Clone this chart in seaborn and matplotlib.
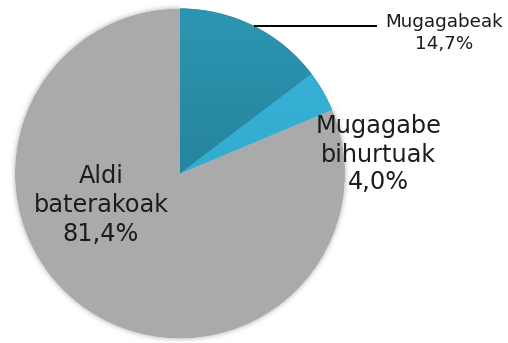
import numpy as np
import matplotlib
matplotlib.use("Agg")
import matplotlib.pyplot as plt
from matplotlib.colors import to_rgb
import seaborn as sns

# Data
categories = ["Mugagabeak", "Mugagabe bihurtuak", "Aldi baterakoak"]
shares = [14.7, 4.0, 81.4]
label_lines = [["Mugagabeak"], ["Mugagabe", "bihurtuak"], ["Aldi", "baterakoak"]]

# Styling
grad_top = ["#2c96b2", "#37b2d6", None]
grad_bottom = ["#21728a", "#2fa6ca", None]
grey = "#aaaaaa"
text_color = "#1c1c1c"

sns.set_theme(style="white")
plt.rcParams["font.family"] = ["DejaVu Sans"]

W, H = 508, 343
fig = plt.figure(figsize=(W / 100, H / 100), dpi=100)
ax = fig.add_axes([0, 0, 1, 1])


def Y(y):
    return H - y


cx, cy, r = 180.0, Y(173.5), 165.0

wedges, _ = ax.pie(
    shares, startangle=90, counterclock=False, center=(cx, cy), radius=r,
    frame=True, wedgeprops=dict(linewidth=0),
)


def soft_edge(image, dpi, sigma=2.6):
    pad = int(3 * sigma) + 2
    alpha = np.pad(image[..., 3], pad)
    k = np.arange(-pad, pad + 1)
    kern = np.exp(-0.5 * (k / sigma) ** 2)
    kern /= kern.sum()
    out = np.zeros_like(alpha)
    for off, w in zip(k, kern):
        out += w * np.roll(alpha, off, axis=0)
    out2 = np.zeros_like(out)
    for off, w in zip(k, kern):
        out2 += w * np.roll(out, off, axis=1)
    res = np.zeros(alpha.shape + (4,))
    res[..., :3] = to_rgb(grey)
    res[..., 3] = np.maximum(alpha, out2)
    return res, -pad, -pad


# Grey slice with a soft outer rim
wedges[2].set_facecolor(grey)
wedges[2].set_zorder(1)
wedges[2].set_agg_filter(soft_edge)

# Blue slices filled with vertical gradients
ny = 256
t = np.linspace(0, 1, ny)[:, None, None]
for i in range(2):
    top = np.array(to_rgb(grad_top[i]))
    bot = np.array(to_rgb(grad_bottom[i]))
    img = (1 - t) * top + t * bot
    wedges[i].set_facecolor(grad_bottom[i])
    wedges[i].set_zorder(2)
    im = ax.imshow(img, extent=(cx - r, cx + r, cy - r, cy + r), origin="upper",
                   aspect="auto", zorder=3, interpolation="bilinear")
    im.set_clip_path(wedges[i])


def pct(v):
    return f"{v:.1f}%".replace(".", ",")


# Leader line for the first slice, starting on its arc
lead_y = Y(26)
x0 = cx + np.sqrt(r ** 2 - (lead_y - cy) ** 2)
ax.plot([x0, 377], [lead_y, lead_y], color="black", lw=1.4, zorder=4,
        solid_capstyle="butt")

# Labels: (center x, baselines, font size)
label_layout = [
    (444, [27, 49], 13.2),
    (378.5, [133, 162, 189], 17.3),
    (101, [183, 212.5, 241.5], 17.3),
]
for lines, v, (lx, bases, fs) in zip(label_lines, shares, label_layout):
    for txt, b in zip(lines + [pct(v)], bases):
        ax.text(lx, Y(b), txt, ha="center", va="baseline", fontsize=fs,
                color=text_color, zorder=5)

ax.set_xlim(0, W)
ax.set_ylim(0, H)
ax.set_aspect("equal")
ax.axis("off")
fig.savefig("out.png", dpi=100, facecolor="white")
